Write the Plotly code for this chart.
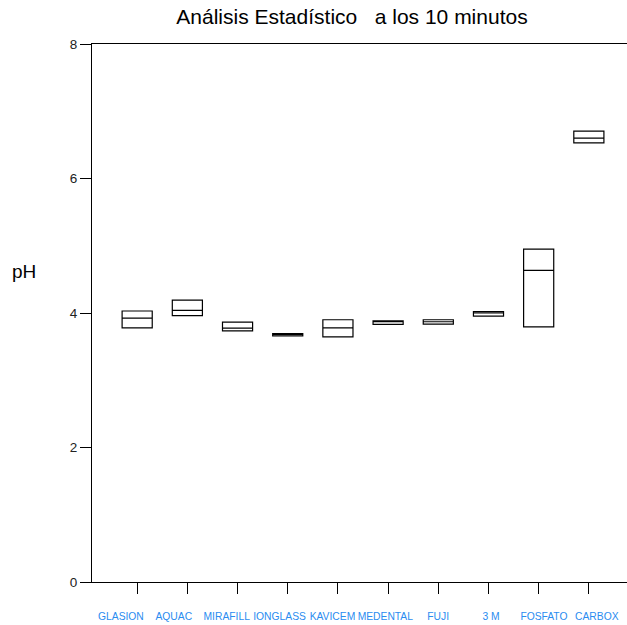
import plotly.graph_objects as go

categories = ["GLASION", "AQUAC", "MIRAFILL", "IONGLASS", "KAVICEM",
              "MEDENTAL", "FUJI", "3 M", "FOSFATO", "CARBOX"]
q1 =     [3.78, 3.96, 3.735, 3.66, 3.645, 3.83, 3.835, 3.955, 3.795, 6.53]
median = [3.925, 4.04, 3.775, 3.68, 3.78, 3.875, 3.87, 4.00, 4.635, 6.60]
q3 =     [4.03, 4.19, 3.865, 3.695, 3.90, 3.885, 3.90, 4.02, 4.95, 6.705]
y_ticks = [0, 2, 4, 6, 8]

title_text = "Análisis Estadístico\u00a0\u00a0\u00a0a los 10 minutos"

fig = go.Figure()
fig.add_trace(go.Box(
    x=categories, q1=q1, median=median, q3=q3,
    lowerfence=q1, upperfence=q3,
    fillcolor="rgba(0,0,0,0)",
    line=dict(color="#000000", width=1.2),
    width=0.6, whiskerwidth=0,
    boxpoints=False, showlegend=False, hoverinfo="skip",
    xaxis="x", yaxis="y",
))
# invisible trace carrying the label axis
fig.add_trace(go.Scatter(
    x=categories, y=median, mode="markers",
    marker=dict(opacity=0), showlegend=False, hoverinfo="skip",
    xaxis="x2", yaxis="y",
))

fig.update_layout(
    width=627, height=625,
    margin=dict(l=92, r=0, t=44, b=43),
    paper_bgcolor="white", plot_bgcolor="white",
    font=dict(family="Liberation Sans, Arial, sans-serif", color="#000"),
    title=dict(text=title_text, x=352/627, xanchor="center",
               y=1 - 17/625, yanchor="middle", yref="container",
               font=dict(size=21, color="#000")),
    xaxis=dict(type="category", range=[-0.9, 9.76], automargin=False,
               showline=True, linecolor="#000", linewidth=1, mirror=True,
               ticks="outside", ticklen=11, tickcolor="#000", tickwidth=1,
               showticklabels=False, showgrid=False, zeroline=False),
    xaxis2=dict(type="category", overlaying="x", side="bottom", anchor="y",
                range=[-0.547, 9.571], showline=False, ticks="",
                automargin=False, tickangle=0,
                showticklabels=True, showgrid=False, zeroline=False,
                ticklabelstandoff=27,
                tickfont=dict(size=10.3, color="#2a8cf0")),
    yaxis=dict(range=[0, 8], tickvals=y_ticks, automargin=False,
               showline=True, linecolor="#000", linewidth=1,
               ticks="outside", ticklen=11, tickcolor="#000", tickwidth=1,
               tickfont=dict(size=13.5, color="#222"),
               showgrid=False, zeroline=False),
    annotations=[dict(text="pH", xref="paper", yref="paper",
                      x=-68/535, y=(581-270)/538, xanchor="center",
                      yanchor="middle", showarrow=False,
                      font=dict(size=19, color="#000"))],
)

fig.write_html("out.html")
